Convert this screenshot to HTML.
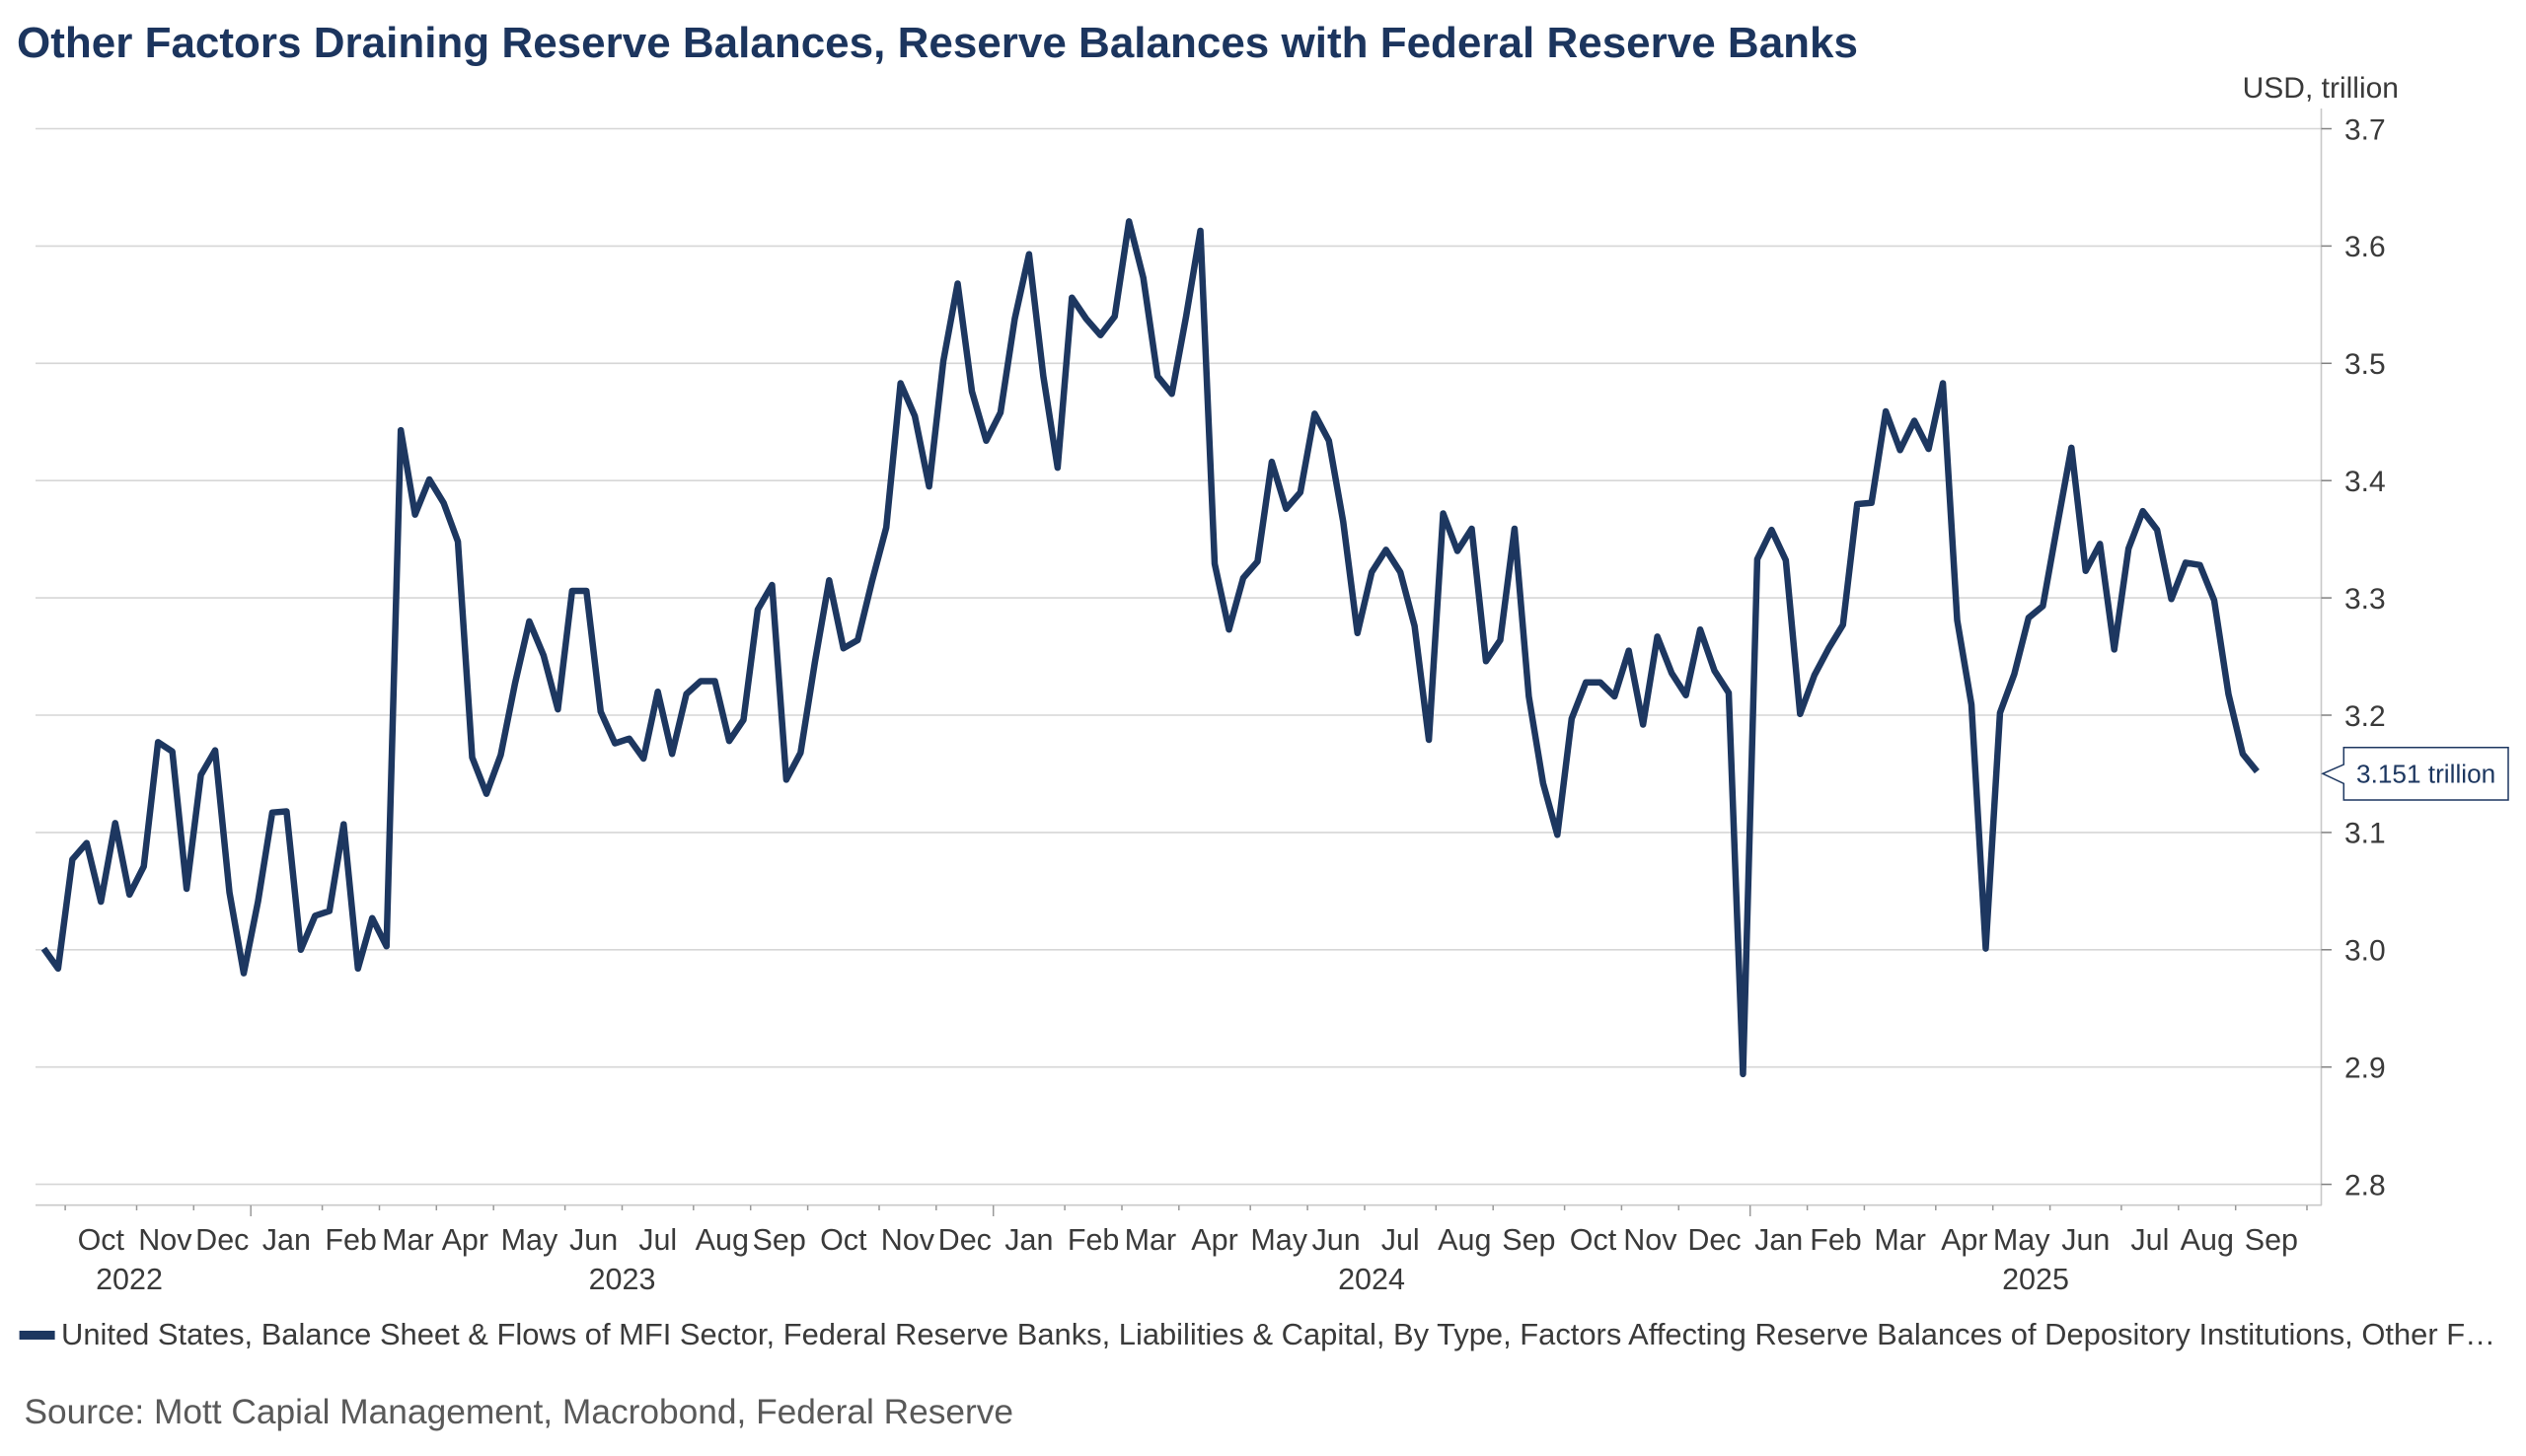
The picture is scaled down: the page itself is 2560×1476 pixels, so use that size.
<!DOCTYPE html>
<html>
<head>
<meta charset="utf-8">
<style>
html,body{margin:0;padding:0;background:#fff;}
svg{display:block;}
text{font-family:"Liberation Sans",Arial,sans-serif;}
</style>
</head>
<body>
<svg width="2560" height="1476" viewBox="0 0 2560 1476" xmlns="http://www.w3.org/2000/svg">
<rect width="2560" height="1476" fill="#fff"/>
<!-- Title -->
<text x="17" y="58" font-size="44" font-weight="bold" fill="#1c355e">Other Factors Draining Reserve Balances, Reserve Balances with Federal Reserve Banks</text>
<!-- Unit -->
<text x="2431" y="99" font-size="30" fill="#3a3a3a" text-anchor="end">USD, trillion</text>

<!-- Gridlines -->
<g stroke="#d6d6d6" stroke-width="1.6">
<line x1="36" y1="130.5" x2="2352" y2="130.5"/>
<line x1="36" y1="249.4" x2="2352" y2="249.4"/>
<line x1="36" y1="368.3" x2="2352" y2="368.3"/>
<line x1="36" y1="487.2" x2="2352" y2="487.2"/>
<line x1="36" y1="606.1" x2="2352" y2="606.1"/>
<line x1="36" y1="725.0" x2="2352" y2="725.0"/>
<line x1="36" y1="843.9" x2="2352" y2="843.9"/>
<line x1="36" y1="962.8" x2="2352" y2="962.8"/>
<line x1="36" y1="1081.7" x2="2352" y2="1081.7"/>
<line x1="36" y1="1200.6" x2="2352" y2="1200.6"/>
</g>
<!-- Axes -->
<line x1="2352.5" y1="110" x2="2352.5" y2="1222" stroke="#c8c8c8" stroke-width="1.6"/>
<line x1="36" y1="1221.7" x2="2353" y2="1221.7" stroke="#c8c8c8" stroke-width="1.6"/>
<!-- Y ticks -->
<g stroke="#808080" stroke-width="1.5">
<line x1="2352.5" y1="130.5" x2="2363" y2="130.5"/>
<line x1="2352.5" y1="249.4" x2="2363" y2="249.4"/>
<line x1="2352.5" y1="368.3" x2="2363" y2="368.3"/>
<line x1="2352.5" y1="487.2" x2="2363" y2="487.2"/>
<line x1="2352.5" y1="606.1" x2="2363" y2="606.1"/>
<line x1="2352.5" y1="725.0" x2="2363" y2="725.0"/>
<line x1="2352.5" y1="843.9" x2="2363" y2="843.9"/>
<line x1="2352.5" y1="962.8" x2="2363" y2="962.8"/>
<line x1="2352.5" y1="1081.7" x2="2363" y2="1081.7"/>
<line x1="2352.5" y1="1200.6" x2="2363" y2="1200.6"/>
</g>
<!-- Y labels -->
<g font-size="30" fill="#3a3a3a">
<text x="2376" y="141.3">3.7</text>
<text x="2376" y="260.2">3.6</text>
<text x="2376" y="379.1">3.5</text>
<text x="2376" y="498.0">3.4</text>
<text x="2376" y="616.9">3.3</text>
<text x="2376" y="735.8">3.2</text>
<text x="2376" y="854.7">3.1</text>
<text x="2376" y="973.6">3.0</text>
<text x="2376" y="1092.5">2.9</text>
<text x="2376" y="1211.4">2.8</text>
</g>

<!-- X ticks -->
<g stroke="#999" stroke-width="1.5">
<line x1="66.1" y1="1222" x2="66.1" y2="1227"/>
<line x1="138.5" y1="1222" x2="138.5" y2="1227"/>
<line x1="196.3" y1="1222" x2="196.3" y2="1227"/>
<line x1="254.2" y1="1222" x2="254.2" y2="1233"/>
<line x1="326.6" y1="1222" x2="326.6" y2="1227"/>
<line x1="384.5" y1="1222" x2="384.5" y2="1227"/>
<line x1="442.3" y1="1222" x2="442.3" y2="1227"/>
<line x1="500.2" y1="1222" x2="500.2" y2="1227"/>
<line x1="572.6" y1="1222" x2="572.6" y2="1227"/>
<line x1="630.5" y1="1222" x2="630.5" y2="1227"/>
<line x1="702.8" y1="1222" x2="702.8" y2="1227"/>
<line x1="760.7" y1="1222" x2="760.7" y2="1227"/>
<line x1="818.6" y1="1222" x2="818.6" y2="1227"/>
<line x1="891.0" y1="1222" x2="891.0" y2="1227"/>
<line x1="948.8" y1="1222" x2="948.8" y2="1227"/>
<line x1="1006.7" y1="1222" x2="1006.7" y2="1233"/>
<line x1="1079.1" y1="1222" x2="1079.1" y2="1227"/>
<line x1="1137.0" y1="1222" x2="1137.0" y2="1227"/>
<line x1="1194.8" y1="1222" x2="1194.8" y2="1227"/>
<line x1="1267.2" y1="1222" x2="1267.2" y2="1227"/>
<line x1="1325.1" y1="1222" x2="1325.1" y2="1227"/>
<line x1="1383.0" y1="1222" x2="1383.0" y2="1227"/>
<line x1="1455.3" y1="1222" x2="1455.3" y2="1227"/>
<line x1="1513.2" y1="1222" x2="1513.2" y2="1227"/>
<line x1="1585.6" y1="1222" x2="1585.6" y2="1227"/>
<line x1="1643.4" y1="1222" x2="1643.4" y2="1227"/>
<line x1="1701.3" y1="1222" x2="1701.3" y2="1227"/>
<line x1="1773.7" y1="1222" x2="1773.7" y2="1233"/>
<line x1="1831.6" y1="1222" x2="1831.6" y2="1227"/>
<line x1="1889.4" y1="1222" x2="1889.4" y2="1227"/>
<line x1="1961.8" y1="1222" x2="1961.8" y2="1227"/>
<line x1="2019.7" y1="1222" x2="2019.7" y2="1227"/>
<line x1="2077.6" y1="1222" x2="2077.6" y2="1227"/>
<line x1="2149.9" y1="1222" x2="2149.9" y2="1227"/>
<line x1="2207.8" y1="1222" x2="2207.8" y2="1227"/>
<line x1="2265.7" y1="1222" x2="2265.7" y2="1227"/>
<line x1="2338.0" y1="1222" x2="2338.0" y2="1227"/>
</g>
<!-- Month labels -->
<g font-size="30.5" fill="#3a3a3a" text-anchor="middle">
<text x="102.3" y="1267">Oct</text>
<text x="167.4" y="1267">Nov</text>
<text x="225.3" y="1267">Dec</text>
<text x="290.4" y="1267">Jan</text>
<text x="355.6" y="1267">Feb</text>
<text x="413.4" y="1267">Mar</text>
<text x="471.3" y="1267">Apr</text>
<text x="536.4" y="1267">May</text>
<text x="601.6" y="1267">Jun</text>
<text x="666.7" y="1267">Jul</text>
<text x="731.8" y="1267">Aug</text>
<text x="789.7" y="1267">Sep</text>
<text x="854.8" y="1267">Oct</text>
<text x="919.9" y="1267">Nov</text>
<text x="977.8" y="1267">Dec</text>
<text x="1042.9" y="1267">Jan</text>
<text x="1108.1" y="1267">Feb</text>
<text x="1165.9" y="1267">Mar</text>
<text x="1231.0" y="1267">Apr</text>
<text x="1296.2" y="1267">May</text>
<text x="1354.1" y="1267">Jun</text>
<text x="1419.2" y="1267">Jul</text>
<text x="1484.3" y="1267">Aug</text>
<text x="1549.4" y="1267">Sep</text>
<text x="1614.5" y="1267">Oct</text>
<text x="1672.4" y="1267">Nov</text>
<text x="1737.5" y="1267">Dec</text>
<text x="1802.7" y="1267">Jan</text>
<text x="1860.5" y="1267">Feb</text>
<text x="1925.6" y="1267">Mar</text>
<text x="1990.8" y="1267">Apr</text>
<text x="2048.7" y="1267">May</text>
<text x="2113.8" y="1267">Jun</text>
<text x="2178.9" y="1267">Jul</text>
<text x="2236.8" y="1267">Aug</text>
<text x="2301.9" y="1267">Sep</text>
</g>
<!-- Year labels -->
<g font-size="30.5" fill="#3a3a3a" text-anchor="middle">
<text x="131" y="1307">2022</text>
<text x="630.5" y="1307">2023</text>
<text x="1390" y="1307">2024</text>
<text x="2063" y="1307">2025</text>
</g>

<!-- Series -->
<polyline fill="none" stroke="#1d3760" stroke-width="6.5" stroke-linejoin="round" stroke-linecap="butt" vector-effect="non-scaling-stroke"
transform="matrix(14.471 0 0 -1189 44.4 4529.8)"
points="0,3.001 1,2.984 2,3.077 3,3.091 4,3.041 5,3.108 6,3.047 7,3.071 8,3.177 9,3.169 10,3.052 11,3.149 12,3.170 13,3.049 14,2.980 15,3.041 16,3.117 17,3.118 18,3.000 19,3.029 20,3.033 21,3.107 22,2.984 23,3.027 24,3.003 25,3.443 26,3.371 27,3.401 28,3.381 29,3.348 30,3.164 31,3.133 32,3.166 33,3.227 34,3.280 35,3.251 36,3.205 37,3.306 38,3.306 39,3.203 40,3.176 41,3.180 42,3.163 43,3.220 44,3.167 45,3.218 46,3.229 47,3.229 48,3.178 49,3.196 50,3.290 51,3.311 52,3.145 53,3.168 54,3.245 55,3.315 56,3.257 57,3.264 58,3.314 59,3.360 60,3.483 61,3.455 62,3.395 63,3.502 64,3.568 65,3.476 66,3.434 67,3.458 68,3.538 69,3.593 70,3.489 71,3.411 72,3.556 73,3.538 74,3.524 75,3.540 76,3.621 77,3.573 78,3.489 79,3.474 80,3.540 81,3.613 82,3.329 83,3.273 84,3.317 85,3.331 86,3.416 87,3.376 88,3.390 89,3.457 90,3.434 91,3.365 92,3.270 93,3.322 94,3.341 95,3.322 96,3.276 97,3.179 98,3.372 99,3.340 100,3.359 101,3.246 102,3.264 103,3.359 104,3.216 105,3.142 106,3.098 107,3.197 108,3.228 109,3.228 110,3.216 111,3.255 112,3.192 113,3.267 114,3.236 115,3.217 116,3.273 117,3.238 118,3.219 119,2.894 120,3.333 121,3.358 122,3.332 123,3.201 124,3.234 125,3.257 126,3.277 127,3.380 128,3.381 129,3.459 130,3.426 131,3.451 132,3.427 133,3.483 134,3.281 135,3.209 136,3.001 137,3.202 138,3.235 139,3.283 140,3.293 141,3.361 142,3.428 143,3.323 144,3.346 145,3.256 146,3.342 147,3.374 148,3.358 149,3.299 150,3.330 151,3.328 152,3.298 153,3.218 154,3.167 155,3.152"/>

<!-- Last value annotation -->
<path d="M2375.3,757.7 H2542 V811 H2375.3 V794.3 L2354,784.3 L2375.3,775 Z" fill="#fff" stroke="#1d3760" stroke-width="1.5"/>
<text x="2388" y="793.3" font-size="26.2" fill="#1d3760">3.151 trillion</text>

<!-- Legend -->
<rect x="19.6" y="1349" width="36" height="9" fill="#1d3760"/>
<text x="62" y="1363" font-size="30.7" fill="#3a3a3a" textLength="2467" lengthAdjust="spacingAndGlyphs">United States, Balance Sheet &amp; Flows of MFI Sector, Federal Reserve Banks, Liabilities &amp; Capital, By Type, Factors Affecting Reserve Balances of Depository Institutions, Other F…</text>

<!-- Source -->
<text x="24.5" y="1443" font-size="35.3" fill="#595959">Source: Mott Capial Management, Macrobond, Federal Reserve</text>
</svg>
</body>
</html>
